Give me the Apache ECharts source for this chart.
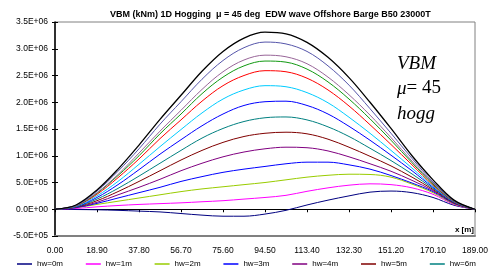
<!DOCTYPE html>
<html>
<head>
<meta charset="utf-8">
<script src="https://cdn.jsdelivr.net/npm/echarts@6/dist/echarts.min.js"></script>
<style>html,body{margin:0;padding:0;background:#fff}#c{width:491px;height:280px}</style>
</head>
<body>
<div id="c"></div>
<script>
// x positions along the barge [m]
const xs = [0, 9.45, 18.9, 28.35, 37.8, 47.25, 56.7, 66.15, 75.6, 85.05, 94.5, 103.95, 113.4, 122.85, 132.3, 141.75, 151.2, 160.65, 170.1, 179.55, 189];
// VBM values in units of 1E+06 kNm
const hw0  = [0, -0.005, -0.01, -0.02, -0.035, -0.05, -0.08, -0.11, -0.13, -0.13, -0.09, -0.02, 0.08, 0.17, 0.25, 0.32, 0.34, 0.31, 0.22, 0.075, 0];
const hw1  = [0, 0.015, 0.045, 0.07, 0.09, 0.105, 0.12, 0.14, 0.16, 0.19, 0.22, 0.26, 0.335, 0.40, 0.45, 0.475, 0.46, 0.40, 0.28, 0.09, 0];
const hw2  = [0, 0.03, 0.09, 0.15, 0.21, 0.27, 0.33, 0.38, 0.42, 0.46, 0.50, 0.55, 0.60, 0.635, 0.655, 0.65, 0.60, 0.47, 0.31, 0.10, 0];
const hw3  = [0, 0.03, 0.11, 0.21, 0.31, 0.41, 0.52, 0.61, 0.69, 0.75, 0.80, 0.85, 0.88, 0.88, 0.83, 0.75, 0.63, 0.49, 0.33, 0.11, 0];
const hw4  = [0, 0.035, 0.13, 0.27, 0.41, 0.56, 0.72, 0.86, 0.98, 1.07, 1.13, 1.16, 1.15, 1.09, 0.98, 0.85, 0.71, 0.54, 0.35, 0.115, 0];
const hw5  = [0, 0.04, 0.16, 0.33, 0.52, 0.72, 0.92, 1.10, 1.25, 1.36, 1.42, 1.44, 1.41, 1.31, 1.16, 0.99, 0.81, 0.60, 0.37, 0.12, 0];
const hw6  = [0, 0.045, 0.19, 0.39, 0.62, 0.86, 1.10, 1.33, 1.51, 1.64, 1.71, 1.725, 1.67, 1.54, 1.36, 1.14, 0.91, 0.66, 0.39, 0.13, 0];
const hw7  = [0, 0.05, 0.22, 0.46, 0.74, 1.03, 1.30, 1.56, 1.78, 1.94, 2.01, 2.02, 1.94, 1.78, 1.55, 1.29, 1.01, 0.72, 0.41, 0.135, 0];
const hw8  = [0, 0.055, 0.25, 0.52, 0.84, 1.17, 1.49, 1.80, 2.06, 2.23, 2.31, 2.29, 2.18, 1.99, 1.72, 1.42, 1.10, 0.77, 0.43, 0.14, 0];
const hw9  = [0, 0.062, 0.28, 0.59, 0.94, 1.32, 1.67, 2.02, 2.31, 2.50, 2.59, 2.57, 2.45, 2.23, 1.93, 1.58, 1.21, 0.83, 0.45, 0.145, 0];
const hw10 = [0, 0.066, 0.30, 0.63, 1.00, 1.41, 1.78, 2.16, 2.47, 2.68, 2.77, 2.75, 2.62, 2.38, 2.06, 1.69, 1.29, 0.87, 0.47, 0.15, 0];
const hw11 = [0, 0.07, 0.31, 0.65, 1.05, 1.46, 1.85, 2.24, 2.57, 2.79, 2.88, 2.85, 2.72, 2.47, 2.14, 1.76, 1.34, 0.90, 0.49, 0.155, 0];
const hw12 = [0, 0.075, 0.34, 0.71, 1.13, 1.59, 2.01, 2.43, 2.78, 3.02, 3.125, 3.09, 2.95, 2.68, 2.32, 1.88, 1.42, 0.95, 0.51, 0.16, 0];
const hw13 = [0, 0.08, 0.36, 0.75, 1.20, 1.68, 2.13, 2.58, 2.95, 3.20, 3.31, 3.28, 3.12, 2.84, 2.46, 2.00, 1.51, 1.00, 0.55, 0.17, 0];
const UNIT = 1e6;

const names = ['hw=0m','hw=1m','hw=2m','hw=3m','hw=4m','hw=5m','hw=6m','hw=7m','hw=8m','hw=9m','hw=10m','hw=11m','hw=12m','hw=13m'];
const seriesVals = [hw0,hw1,hw2,hw3,hw4,hw5,hw6,hw7,hw8,hw9,hw10,hw11,hw12,hw13];
const colors = ['#000080','#FF00FF','#99CC00','#0000FF','#800080','#800000','#008080','#0000FF','#00CCFF','#FF0000','#119911','#996699','#5555AA','#000000'];

const sciFmt = v => {
  if (Math.abs(v) < 1e-9) return '0.0E+00';
  const e = Math.floor(Math.log10(Math.abs(v)) + 1e-9);
  const m = v / Math.pow(10, e);
  return m.toFixed(1) + 'E' + (e < 0 ? '-' : '+') + String(Math.abs(e)).padStart(2, '0');
};

const chart = echarts.init(document.getElementById('c'), null, {renderer: 'canvas'});
const FONT = 'Liberation Sans, Arial, sans-serif';

const legends = names.map((n, i) => ({
  data: [n],
  left: 17 + (i % 7) * 68.8,
  top: i < 7 ? 260 : 279.5,
  icon: 'rect',
  itemWidth: 15,
  itemHeight: 1.5,
  padding: 0,
  selectedMode: false,
  textStyle: {fontSize: 8, color: '#000', fontFamily: FONT}
}));

chart.setOption({
  animation: false,
  backgroundColor: '#fff',
  title: {
    text: 'VBM (kNm) 1D Hogging  μ = 45 deg  EDW wave Offshore Barge B50 23000T',
    left: 110, top: 10, padding: 0,
    textStyle: {fontSize: 9, fontWeight: 'bold', color: '#000', fontFamily: FONT}
  },
  legend: legends,
  grid: {left: 55, right: 15, top: 22, bottom: 44, show: true, borderColor: '#808080', borderWidth: 1, containLabel: false},
  xAxis: [{
    type: 'value', min: 0, max: 189, interval: 18.9, position: 'bottom',
    axisLine: {onZero: false, lineStyle: {color: '#808080', width: 2}},
    axisTick: {show: false},
    splitLine: {show: false},
    axisLabel: {fontSize: 8.5, color: '#000', fontFamily: FONT, margin: 10, formatter: v => v.toFixed(2), showMaxLabel: true, showMinLabel: true}
  }, {
    type: 'value', min: 0, max: 189, interval: 18.9, position: 'bottom',
    axisLine: {onZero: true, lineStyle: {color: '#000', width: 1}},
    axisTick: {show: true, length: 3, lineStyle: {color: '#000'}},
    splitLine: {show: false},
    axisLabel: {show: false}
  }],
  yAxis: [{
    type: 'value', min: -5e5, max: 3.5e6, interval: 5e5, position: 'left',
    axisLine: {show: true, lineStyle: {color: '#000', width: 1.5}},
    axisTick: {show: true, length: 3, lineStyle: {color: '#000'}},
    splitLine: {show: false},
    axisLabel: {fontSize: 8.5, color: '#000', fontFamily: FONT, margin: 7, formatter: sciFmt}
  }, {
    type: 'value', min: -5e5, max: 3.5e6, interval: 5e5, position: 'left', offset: 0,
    axisLine: {show: false},
    axisTick: {show: true, inside: true, length: 3, lineStyle: {color: '#000'}},
    splitLine: {show: false},
    axisLabel: {show: false}
  }],
  series: seriesVals.map((vals, i) => ({
    name: names[i], type: 'line', xAxisIndex: 0, yAxisIndex: 0,
    data: xs.map((x, j) => [x, vals[j] * UNIT]),
    showSymbol: false, symbol: 'none', smooth: 0.35,
    lineStyle: {color: colors[i], width: i === 13 ? 1.3 : 1},
    itemStyle: {color: colors[i]},
    z: 2 + i
  })),
  graphic: [{
    type: 'text', left: 397, top: 54, z: 100,
    style: {
      text: '{i|VBM}\n{i|μ}{n|= 45}\n{i|hogg}',
      rich: {
        i: {fontFamily: 'Liberation Serif, Times New Roman, serif', fontStyle: 'italic', fontSize: 19, lineHeight: 25, fill: '#000'},
        n: {fontFamily: 'Liberation Serif, Times New Roman, serif', fontSize: 19, lineHeight: 25, fill: '#000'}
      }
    }
  }, {
    type: 'text', right: 17, top: 226, z: 100,
    style: {text: 'x [m]', font: 'bold 8px Liberation Sans, Arial, sans-serif', fill: '#000'}
  }]
});
</script>
</body>
</html>
